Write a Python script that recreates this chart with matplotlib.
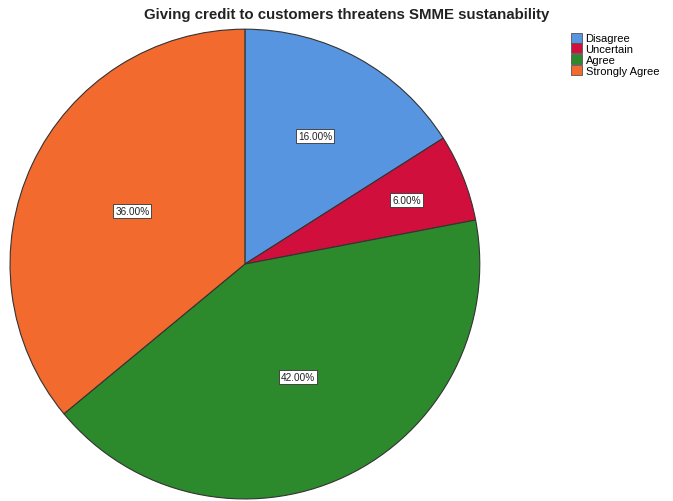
import numpy as np
import matplotlib
matplotlib.use("Agg")
import matplotlib.pyplot as plt
from matplotlib.patches import Patch

plt.rcParams["font.family"] = ["Liberation Sans", "DejaVu Sans"]

categories = ["Disagree", "Uncertain", "Agree", "Strongly Agree"]
percent = [16.0, 6.0, 42.0, 36.0]
colors = ["#5895E0", "#D00F3C", "#2C8A2C", "#F26A2E"]
label_radius = [0.62, 0.74, 0.53, 0.53]

fig = plt.figure(figsize=(6.73, 5.02), dpi=100)
ax = fig.add_axes([0.0149, 0.004, 0.698, 0.936])

wedges, _ = ax.pie(percent, colors=colors, startangle=90, counterclock=False,
                   wedgeprops=dict(edgecolor="#333333", linewidth=0.8))
ax.set_aspect("equal")
ax.set_xlim(-1.0, 1.0)
ax.set_ylim(-1.0, 1.0)

for w, p, r in zip(wedges, percent, label_radius):
    mid = np.deg2rad((w.theta1 + w.theta2) / 2)
    ax.text(r * np.cos(mid), r * np.sin(mid), f"{p:.2f}%", ha="center", va="center",
            fontsize=7.2, color="#222222",
            bbox=dict(boxstyle="square,pad=0.2", fc="white", ec="#333333", lw=0.6))

fig.text(0.515, 0.971, "Giving credit to customers threatens SMME sustanability",
         ha="center", va="center", fontsize=10.8, fontweight="bold", color="#222222")

handles = [Patch(facecolor=c, edgecolor="#555555", linewidth=0.6) for c in colors]
fig.legend(handles, categories, loc="upper left", bbox_to_anchor=(0.842, 0.942),
           frameon=False, fontsize=8, handlelength=1.0, handleheight=1.0,
           handletextpad=0.3, labelspacing=0.0, borderaxespad=0)

fig.savefig("out.png", dpi=100)
